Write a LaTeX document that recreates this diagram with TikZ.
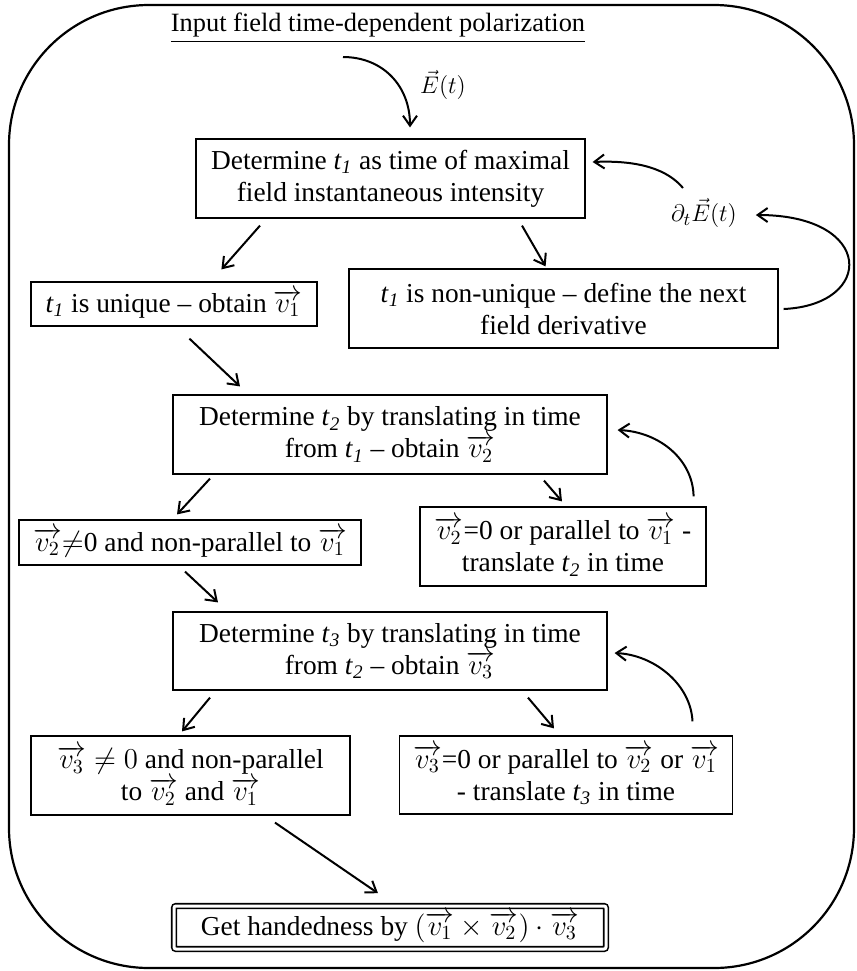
\documentclass[tikz,border=0pt]{standalone}
\usepackage{amsmath,amssymb}
\usepackage{fontspec}
\setmainfont{Liberation Serif}
\usepackage{tikz}
\usetikzlibrary{calc,arrows.meta}
\newcommand{\tsub}[1]{\textit{t}\textsubscript{\textit{#1}}}
\newcommand{\vv}[1]{\overrightarrow{v_{#1}}}
\tikzset{
  ar/.style={-{Straight Barb[length=5pt,width=7pt]},line width=1pt},
  box/.style={draw,line width=0.6pt,align=center,inner xsep=7pt,inner ysep=0pt,font=\fontsize{13.7}{16}\selectfont}
}

\begin{document}
\begin{tikzpicture}[x=0.5pt,y=-0.5pt,font=\fontsize{13.2}{16}\selectfont]
\useasboundingbox (0,0) rectangle (857,971);
\draw[line width=1.1pt,rounded corners=70pt] (9,5) rectangle (854,968);
\node (title) at (378,28) {\underline{Input field time-dependent polarization}};
\coordinate (src) at (343,57);
\node (efield) at (443,85) {$\vec{E}(t)$};
\node[box,minimum width=194.5pt,minimum height=39.5pt] (tmax) at (390.5,178.5) {Determine \tsub{1} as time of maximal\\field instantaneous intensity};
\node[box,minimum width=143pt,minimum height=22pt] (uniq) at (174,304) {\tsub{1} is unique -- obtain $\vv{1}$};
\node[box,minimum width=214.5pt,minimum height=39.5pt] (nonuniq) at (563.5,308.5) {\tsub{1} is non-unique -- define the next\\field derivative};
\node (dE) at (704,213) {$\partial_t\vec{E}(t)$};
\node[box,minimum width=217pt,minimum height=39.5pt] (det2) at (390,434.5) {Determine \tsub{2} by translating in time\\from \tsub{1} -- obtain $\vv{2}$};
\node[box,minimum width=167pt,minimum height=22.5pt] (ok2) at (190,542.5) {$\vv{2}$$\neq$0 and non-parallel to $\vv{1}$};
\node[box,minimum width=143pt,minimum height=39.5pt] (bad2) at (563,546.5) {$\vv{2}$=0 or parallel to $\vv{1}$ -\\translate \tsub{2} in time};
\node[box,minimum width=217pt,minimum height=39pt] (det3) at (390,651) {Determine \tsub{3} by translating in time\\from \tsub{2} -- obtain $\vv{3}$};
\node[box,minimum width=159.5pt,minimum height=39.5pt] (ok3) at (190.5,775.5) {$\vv{3}\neq 0$ and non-parallel\\to $\vv{2}$ and $\vv{1}$};
\node[box,minimum width=166pt,minimum height=39pt] (bad3) at (566,775) {$\vv{3}$=0 or parallel to $\vv{2}$ or $\vv{1}$\\- translate \tsub{3} in time};
\node[box,double,double distance=1.5pt,line width=0.8pt,rounded corners=1pt,minimum width=216pt,minimum height=21.5pt] (hand) at (390,927.5) {Get handedness by $(\vv{1}\times\vv{2})\cdot\vv{3}$};
\draw[ar] (src) .. controls (382,57) and (410,85) .. ($(tmax.north)+(19.5,-11)$);
\draw[ar] ($(tmax.south)+(-130.5,7)$) -- ($(uniq.north west)+(191,-12)$);
\draw[ar] ($(tmax.south)+(131.5,7)$) -- ($(nonuniq.north east)+(-233,-2)$);
\draw[ar] ($(nonuniq.east)+(5,0.5)$) .. controls (875,305) and (875,215) .. ($(dE.east)+(12,2)$);
\draw[ar] ($(dE)+(-21,-25)$) .. controls (668,170) and (640,160) .. ($(tmax.east)+(7,-16.5)$);
\draw[ar] ($(uniq.south west)+(159,12)$) -- ($(det2.north)+(-150,-8)$);
\draw[ar] ($(det2.south)+(-180,4)$) -- ($(ok2.north)+(-13,-5)$);
\draw[ar] ($(det2.south)+(154,6)$) -- ($(bad2.north)+(-1,-5)$);
\draw[ar] ($(bad2.north east)+(-13,-10)$) .. controls (693,460) and (660,432) .. ($(det2.east)+(10,-4.5)$);
\draw[ar] ($(ok2.south)+(-5,6)$) -- ($(det3.north)+(-172,-9)$);
\draw[ar] ($(det3.south)+(-180,7)$) -- ($(ok3.north)+(-8.5,-4)$);
\draw[ar] ($(det3.south)+(138,7)$) -- ($(bad3.north)+(-12,-7)$);
\draw[ar] ($(bad3.north east)+(-41,-14)$) .. controls (691,685) and (655,655) .. ($(det3.east)+(7,2)$);
\draw[ar] ($(ok3.south)+(84.5,7)$) -- ($(hand.north)+(-12,-12)$);
\end{tikzpicture}
\end{document}
